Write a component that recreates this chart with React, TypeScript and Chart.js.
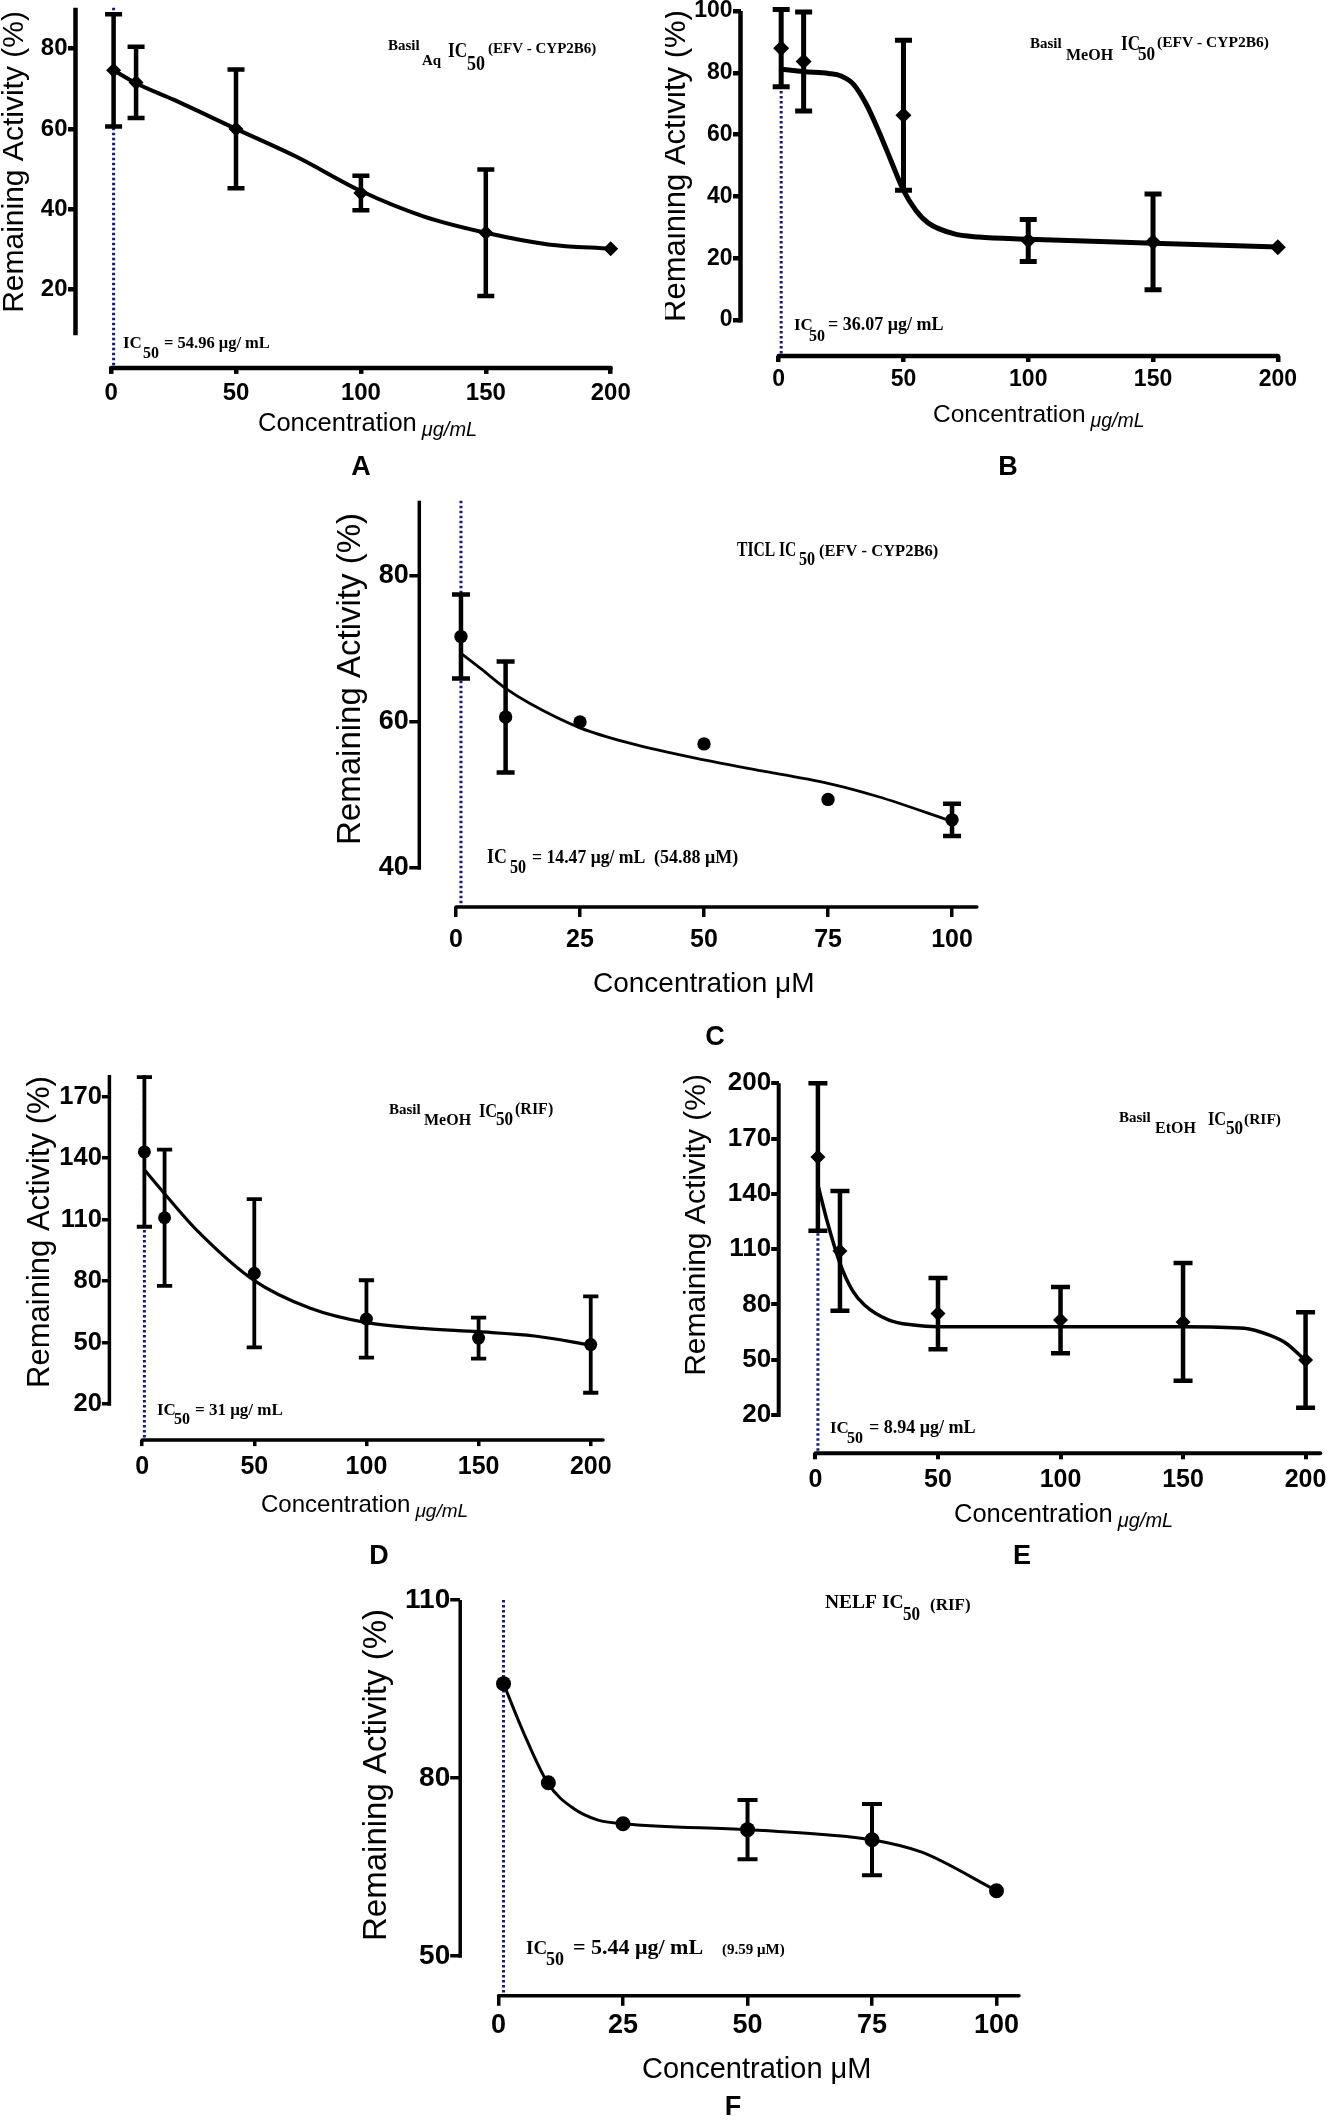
import React, { useEffect, useRef } from 'react';
import { Chart, registerables } from 'chart.js';

Chart.register(...registerables);

const SANS = "'Liberation Sans', Arial, Helvetica, sans-serif";
const SERIF = "'Liberation Serif', 'Times New Roman', Times, serif";

// ---------- Panel A : Basil Aq (EFV - CYP2B6) ----------
const A_CONC = [1, 10, 50, 100, 150, 200];
const A_MEAN = [74.6, 71.6, 60.0, 44.0, 34.1, 30.1];
const A_SEM = [14.0, 8.9, 14.8, 4.3, 15.8, 0];
const A_FIT_X = [1, 10, 25, 50, 75, 100, 125, 150, 175, 200];
const A_FIT_Y = [74.6, 71.4, 67.3, 60.0, 52.8, 44.5, 38.2, 34.1, 31.2, 30.1];
const A_X_TICKS = [0, 50, 100, 150, 200];
const A_Y_TICKS = [20, 40, 60, 80];

// ---------- Panel B : Basil MeOH (EFV - CYP2B6) ----------
const B_CONC = [1, 10, 50, 100, 150, 200];
const B_MEAN = [88.0, 83.7, 66.3, 25.8, 25.3, 23.6];
const B_SEM = [12.5, 16.0, 24.3, 6.8, 15.5, 0];
const B_FIT_X = [1, 10, 20, 25, 30, 35, 40, 45, 50, 55, 60, 70, 80, 100, 150, 200];
const B_FIT_Y = [81.2, 80.4, 79.8, 79.0, 76.3, 70.0, 61.3, 51.6, 42.0, 35.5, 31.4, 28.0, 26.9, 26.2, 24.9, 23.7];
const B_X_TICKS = [0, 50, 100, 150, 200];
const B_Y_TICKS = [0, 20, 40, 60, 80, 100];

// ---------- Panel C : TICL (EFV - CYP2B6) ----------
const C_CONC = [1, 10, 25, 50, 75, 100];
const C_MEAN = [71.7, 60.7, 60.0, 57.0, 49.4, 46.6];
const C_SEM = [5.75, 7.6, 0, 0, 0, 2.2];
const C_FIT_X = [1, 5, 10, 15, 25, 35, 50, 60, 75, 85, 100];
const C_FIT_Y = [69.4, 67.3, 64.6, 62.5, 59.2, 57.1, 54.8, 53.5, 51.6, 49.8, 46.4];
const C_X_TICKS = [0, 25, 50, 75, 100];
const C_Y_TICKS = [40, 60, 80];

// ---------- Panel D : Basil MeOH (RIF) ----------
const D_CONC = [1, 10, 50, 100, 150, 200];
const D_MEAN = [143.0, 110.9, 83.8, 61.5, 52.2, 49.0];
const D_SEM = [36.5, 33.2, 36.2, 18.9, 10.0, 23.5];
const D_FIT_X = [1, 10, 25, 50, 75, 100, 125, 150, 175, 200];
const D_FIT_Y = [134.3, 122.6, 104.1, 80.2, 66.7, 59.7, 56.9, 55.3, 53.2, 48.8];
const D_X_TICKS = [0, 50, 100, 150, 200];
const D_Y_TICKS = [20, 50, 80, 110, 140, 170];

// ---------- Panel E : Basil EtOH (RIF) ----------
const E_CONC = [1, 10, 50, 100, 150, 200];
const E_MEAN = [160.0, 109.0, 75.0, 71.5, 70.5, 49.8];
const E_SEM = [40.0, 32.5, 19.3, 18.0, 32.0, 25.9];
const E_FIT_X = [1, 5, 10, 15, 20, 30, 40, 50, 100, 150, 175, 185, 192, 200];
const E_FIT_Y = [144.8, 124.0, 102.3, 87.8, 79.7, 71.5, 68.8, 67.9, 67.9, 67.9, 67.0, 63.4, 58.9, 49.5];
const E_X_TICKS = [0, 50, 100, 150, 200];
const E_Y_TICKS = [20, 50, 80, 110, 140, 170, 200];

// ---------- Panel F : NELF (RIF) ----------
const F_CONC = [1, 10, 25, 50, 75, 100];
const F_MEAN = [95.9, 79.2, 72.3, 71.3, 69.6, 61.0];
const F_SEM = [0, 0, 0, 5.0, 6.0, 0];
const F_FIT_X = [1, 5, 10, 15, 20, 25, 50, 65, 75, 85, 100];
const F_FIT_Y = [95.9, 87.7, 79.0, 74.9, 72.9, 72.3, 71.3, 70.5, 69.6, 67.5, 61.0];
const F_X_TICKS = [0, 25, 50, 75, 100];
const F_Y_TICKS = [50, 80, 110];

const Y_TITLE = 'Remaining Activity (%)';

type Run = [string, number, number, number, number?];

interface PanelSpec {
  box: [number, number, number, number];
  area: [number, number, number, number];
  xRange: [number, number];
  yRange: [number, number];
  xTicks: number[];
  yTicks: number[];
  xAxisSpan: [number, number];
  yAxisSpan: [number, number];
  icX: number;
  icTop: number;
  conc: number[];
  mean: number[];
  err: number[];
  fitX: number[];
  fitY: number[];
  xTickFont: number;
  yTickFont: number;
  xTickLen: number;
  yTickLen: number;
  xTickPad: number;
  yTickPad: number;
  axisW: number;
  errW: number;
  capHalf: number;
  curveW: number;
  pointR: number;
  pointStyle: string;
  yTitle: [number, number, number];
  xTitle: { x: number; y: number; size: number; main: string; unit?: string; unitSize?: number; unitDy?: number };
  letter: [string, number, number];
  annot: Run[];
  ic50: Run[];
}

const PANELS: PanelSpec[] = [
  {
    box: [0, 0, 665, 490],
    area: [75.5, 7.8, 618.2, 367.9],
    xRange: [-14.25, 203],
    yRange: [0.4, 90.2],
    xTicks: A_X_TICKS,
    yTicks: A_Y_TICKS,
    xAxisSpan: [0, 200],
    yAxisSpan: [9.1, 90.2],
    icX: 1,
    icTop: 90.2,
    conc: A_CONC, mean: A_MEAN, err: A_SEM, fitX: A_FIT_X, fitY: A_FIT_Y,
    xTickFont: 24, yTickFont: 24, xTickLen: 6, yTickLen: 7.5, xTickPad: 7, yTickPad: 0.5,
    axisW: 4.5, errW: 4.5, capHalf: 8.5, curveW: 4, pointR: 7.5, pointStyle: 'rectRot',
    yTitle: [15, 162, 30],
    xTitle: { x: 258, y: 430.5, size: 25.5, main: 'Concentration', unit: 'μg/mL', unitSize: 20, unitDy: 5 },
    letter: ['A', 361, 468],
    annot: [
      ['Basil', 388, 50, 15],
      ['Aq', 422, 65, 15],
      ['IC', 448, 57, 20, 0.86],
      ['50', 467, 70, 20, 0.9],
      ['(EFV - CYP2B6)', 488, 53, 15],
    ],
    ic50: [
      ['IC', 123, 348, 17],
      ['50', 143, 358, 16],
      ['= 54.96 μg/ mL', 164, 348, 16.5],
    ],
  },
  {
    box: [665, 0, 664, 490],
    area: [740.5, 6.9, 1285.3, 356],
    xRange: [-15.3, 203],
    yRange: [-11.6, 101],
    xTicks: B_X_TICKS,
    yTicks: B_Y_TICKS,
    xAxisSpan: [0, 200],
    yAxisSpan: [0, 100],
    icX: 1,
    icTop: 100,
    conc: B_CONC, mean: B_MEAN, err: B_SEM, fitX: B_FIT_X, fitY: B_FIT_Y,
    xTickFont: 23, yTickFont: 23, xTickLen: 6, yTickLen: 7.5, xTickPad: 6.5, yTickPad: 0.5,
    axisW: 4.5, errW: 5, capHalf: 8.5, curveW: 5, pointR: 8, pointStyle: 'rectRot',
    yTitle: [676, 166, 31],
    xTitle: { x: 933, y: 421.5, size: 24.5, main: 'Concentration', unit: 'μg/mL', unitSize: 19.5, unitDy: 5 },
    letter: ['B', 1008, 468],
    annot: [
      ['Basil', 1030, 48, 15],
      ['MeOH', 1066, 59.5, 16],
      ['IC', 1121, 49.5, 20, 0.86],
      ['50', 1138, 59.5, 19, 0.9],
      ['(EFV - CYP2B6)', 1157, 47, 15.5],
    ],
    ic50: [
      ['IC', 794, 330, 17],
      ['50', 809, 340.5, 16],
      ['= 36.07 μg/ mL', 828, 330, 18],
    ],
  },
  {
    box: [250, 490, 800, 570],
    area: [419.3, 500.8, 981.8, 907],
    xRange: [-7.4, 106],
    yRange: [34.66, 90.3],
    xTicks: C_X_TICKS,
    yTicks: C_Y_TICKS,
    xAxisSpan: [0, 105],
    yAxisSpan: [40, 90.3],
    icX: 1,
    icTop: 90.3,
    conc: C_CONC, mean: C_MEAN, err: C_SEM, fitX: C_FIT_X, fitY: C_FIT_Y,
    xTickFont: 25, yTickFont: 27, xTickLen: 10, yTickLen: 10, xTickPad: 10.5, yTickPad: 0.5,
    axisW: 3.5, errW: 4.5, capHalf: 9, curveW: 2.8, pointR: 6.7, pointStyle: 'circle',
    yTitle: [351, 679, 33],
    xTitle: { x: 593, y: 992, size: 28, main: 'Concentration μM' },
    letter: ['C', 715, 1038],
    annot: [
      ['TICL IC', 737, 556, 20, 0.78],
      ['50', 799, 565, 19, 0.85],
      ['(EFV - CYP2B6)', 819, 556, 16.5],
    ],
    ic50: [
      ['IC', 487, 863, 21, 0.85],
      ['50', 510, 873, 19, 0.85],
      ['= 14.47 μg/ mL', 532, 863, 19, 0.93],
      ['(54.88 μM)', 654, 863, 18],
    ],
  },
  {
    box: [0, 1060, 665, 520],
    area: [109.4, 1074.9, 604.2, 1440.1],
    xRange: [-14.6, 206],
    yRange: [2.4, 180.6],
    xTicks: D_X_TICKS,
    yTicks: D_Y_TICKS,
    xAxisSpan: [0, 205.5],
    yAxisSpan: [20, 180.6],
    icX: 1,
    icTop: 180.6,
    conc: D_CONC, mean: D_MEAN, err: D_SEM, fitX: D_FIT_X, fitY: D_FIT_Y,
    xTickFont: 25, yTickFont: 25.5, xTickLen: 6, yTickLen: 7.5, xTickPad: 8.4, yTickPad: 0,
    axisW: 3.5, errW: 3.8, capHalf: 7.6, curveW: 3.2, pointR: 6.5, pointStyle: 'circle',
    yTitle: [40, 1232, 31],
    xTitle: { x: 261, y: 1511.5, size: 24, main: 'Concentration', unit: 'μg/mL', unitSize: 19, unitDy: 5 },
    letter: ['D', 379, 1557],
    annot: [
      ['Basil', 389, 1113.5, 15],
      ['MeOH', 424, 1124.5, 16],
      ['IC', 479, 1117, 19, 0.86],
      ['50', 496, 1125, 19, 0.9],
      ['(RIF)', 515, 1113.5, 16],
    ],
    ic50: [
      ['IC', 157, 1415, 17],
      ['50', 174, 1424, 16],
      ['= 31 μg/ mL', 195, 1415, 17],
    ],
  },
  {
    box: [665, 1060, 664, 520],
    area: [778.7, 1081.4, 1323.5, 1453.3],
    xRange: [-15, 206.5],
    yRange: [-0.8, 201],
    xTicks: E_X_TICKS,
    yTicks: E_Y_TICKS,
    xAxisSpan: [0, 206],
    yAxisSpan: [20, 200],
    icX: 1,
    icTop: 200,
    conc: E_CONC, mean: E_MEAN, err: E_SEM, fitX: E_FIT_X, fitY: E_FIT_Y,
    xTickFont: 25, yTickFont: 26, xTickLen: 6, yTickLen: 7.5, xTickPad: 8.2, yTickPad: 0,
    axisW: 4, errW: 4.5, capHalf: 9.5, curveW: 3.5, pointR: 7.5, pointStyle: 'rectRot',
    yTitle: [697, 1225, 30],
    xTitle: { x: 954, y: 1521.5, size: 25.5, main: 'Concentration', unit: 'μg/mL', unitSize: 20, unitDy: 5 },
    letter: ['E', 1022, 1557],
    annot: [
      ['Basil', 1119, 1121.5, 15],
      ['EtOH', 1155, 1133, 16],
      ['IC', 1208, 1125, 19, 0.86],
      ['50', 1226, 1133.5, 19, 0.9],
      ['(RIF)', 1244, 1123.5, 15.5],
    ],
    ic50: [
      ['IC', 830, 1433, 17],
      ['50', 847, 1443, 16],
      ['= 8.94 μg/ mL', 869, 1433, 18],
    ],
  },
  {
    box: [250, 1580, 850, 546],
    area: [460.2, 1598.2, 1023.9, 1995.8],
    xRange: [-7.7, 105.5],
    yRange: [43.3, 110.3],
    xTicks: F_X_TICKS,
    yTicks: F_Y_TICKS,
    xAxisSpan: [0, 104.5],
    yAxisSpan: [50, 110],
    icX: 1,
    icTop: 110,
    conc: F_CONC, mean: F_MEAN, err: F_SEM, fitX: F_FIT_X, fitY: F_FIT_Y,
    xTickFont: 27, yTickFont: 28, xTickLen: 10, yTickLen: 10, xTickPad: 6.7, yTickPad: 0,
    axisW: 3.5, errW: 4, capHalf: 10, curveW: 3, pointR: 7.5, pointStyle: 'circle',
    yTitle: [377, 1775, 33],
    xTitle: { x: 642, y: 2077.5, size: 29, main: 'Concentration μM' },
    letter: ['F', 733, 2108],
    annot: [
      ['NELF IC', 825, 1608, 19.5],
      ['50', 903, 1620, 19, 0.9],
      ['(RIF)', 930, 1610, 17],
    ],
    ic50: [
      ['IC', 526, 1954, 19],
      ['50', 546, 1965, 18],
      ['= 5.44 μg/ mL', 573, 1954, 22],
      ['(9.59 μM)', 722, 1954, 15],
    ],
  },
];

function drawRuns(ctx: CanvasRenderingContext2D, runs: Run[]) {
  for (const [text, x, y, size, sx] of runs) {
    ctx.save();
    ctx.font = `bold ${size}px ${SERIF}`;
    ctx.fillStyle = '#000';
    ctx.textAlign = 'left';
    ctx.textBaseline = 'alphabetic';
    ctx.translate(x, y);
    ctx.scale(sx ?? 1, 1);
    ctx.fillText(text, 0, 0);
    ctx.restore();
  }
}

function decorPlugin(s: PanelSpec) {
  return {
    id: 'decor',
    beforeDatasetsDraw(chart: any) {
      const { ctx, chartArea } = chart;
      const xs = chart.scales.x;
      const ys = chart.scales.y;
      ctx.save();
      // IC50 dotted marker line
      ctx.strokeStyle = '#1a1a70';
      ctx.lineWidth = 3;
      ctx.setLineDash([2.5, 2.5]);
      const px = xs.getPixelForValue(s.icX);
      ctx.beginPath();
      ctx.moveTo(px, ys.getPixelForValue(s.icTop));
      ctx.lineTo(px, chartArea.bottom);
      ctx.stroke();
      ctx.setLineDash([]);
      // axis lines (offset, Prism-like)
      ctx.strokeStyle = '#000';
      ctx.lineWidth = s.axisW;
      ctx.lineCap = 'butt';
      ctx.beginPath();
      ctx.moveTo(chartArea.left, ys.getPixelForValue(s.yAxisSpan[0]) + s.axisW / 2);
      ctx.lineTo(chartArea.left, ys.getPixelForValue(s.yAxisSpan[1]));
      ctx.stroke();
      ctx.lineCap = 'round';
      ctx.beginPath();
      ctx.moveTo(xs.getPixelForValue(s.xAxisSpan[0]), chartArea.bottom);
      ctx.lineTo(xs.getPixelForValue(s.xAxisSpan[1]), chartArea.bottom);
      ctx.stroke();
      ctx.restore();
    },
    afterDatasetsDraw(chart: any) {
      const { ctx } = chart;
      const xs = chart.scales.x;
      const ys = chart.scales.y;
      ctx.save();
      ctx.strokeStyle = '#000';
      ctx.lineWidth = s.errW;
      ctx.lineCap = 'butt';
      s.conc.forEach((c, i) => {
        const e = s.err[i];
        if (!e) return;
        const x = xs.getPixelForValue(c);
        const yt = ys.getPixelForValue(s.mean[i] + e);
        const yb = ys.getPixelForValue(s.mean[i] - e);
        ctx.beginPath();
        ctx.moveTo(x, yt - s.errW / 2);
        ctx.lineTo(x, yb + s.errW / 2);
        ctx.moveTo(x - s.capHalf, yt);
        ctx.lineTo(x + s.capHalf, yt);
        ctx.moveTo(x - s.capHalf, yb);
        ctx.lineTo(x + s.capHalf, yb);
        ctx.stroke();
      });
      ctx.restore();
    },
    afterDraw(chart: any) {
      const { ctx } = chart;
      ctx.save();
      ctx.translate(-s.box[0], -s.box[1]);
      ctx.fillStyle = '#000';
      // y title
      ctx.save();
      ctx.translate(s.yTitle[0], s.yTitle[1]);
      ctx.rotate(-Math.PI / 2);
      ctx.font = `${s.yTitle[2]}px ${SANS}`;
      ctx.textAlign = 'center';
      ctx.textBaseline = 'middle';
      ctx.fillText(Y_TITLE, 0, 0);
      ctx.restore();
      // x title
      const xt = s.xTitle;
      ctx.font = `${xt.size}px ${SANS}`;
      ctx.textAlign = 'left';
      ctx.textBaseline = 'alphabetic';
      ctx.fillText(xt.main, xt.x, xt.y);
      if (xt.unit) {
        const w = ctx.measureText(xt.main).width;
        ctx.font = `italic ${xt.unitSize}px ${SANS}`;
        ctx.fillText(xt.unit, xt.x + w + 5, xt.y + (xt.unitDy || 0));
      }
      // panel letter
      ctx.font = `bold 27px ${SANS}`;
      ctx.textAlign = 'center';
      ctx.textBaseline = 'middle';
      ctx.fillText(s.letter[0], s.letter[1], s.letter[2]);
      // annotations
      drawRuns(ctx, s.annot);
      drawRuns(ctx, s.ic50);
      ctx.restore();
    },
  };
}

function buildConfig(s: PanelSpec): any {
  const yScaleWidth = s.area[0] - s.box[0];
  const xScaleHeight = s.box[1] + s.box[3] - s.area[3];
  const padding = {
    left: 0,
    top: s.area[1] - s.box[1],
    right: s.box[0] + s.box[2] - s.area[2],
    bottom: 0,
  };
  const fixFit = (horizontal: boolean) => (sc: any) => {
    if (horizontal) sc.height = xScaleHeight;
    else sc.width = yScaleWidth;
    sc.paddingLeft = 0;
    sc.paddingRight = 0;
    sc.paddingTop = 0;
    sc.paddingBottom = 0;
  };
  return {
    type: 'line',
    data: {
      datasets: [
        {
          data: s.fitX.map((x, i) => ({ x, y: s.fitY[i] })),
          borderColor: '#000',
          borderWidth: s.curveW,
          pointRadius: 0,
          cubicInterpolationMode: 'monotone',
          fill: false,
          clip: false,
          order: 2,
        },
        {
          data: s.conc.map((x, i) => ({ x, y: s.mean[i] })),
          showLine: false,
          pointRadius: s.pointR,
          pointStyle: s.pointStyle,
          pointBackgroundColor: '#000',
          pointBorderColor: '#000',
          pointBorderWidth: 0,
          clip: false,
          order: 1,
        },
      ],
    },
    options: {
      responsive: false,
      animation: false,
      devicePixelRatio: 1,
      events: [],
      layout: { padding },
      plugins: {
        legend: { display: false },
        tooltip: { enabled: false },
        title: { display: false },
      },
      scales: {
        x: {
          type: 'linear',
          position: 'bottom',
          min: s.xRange[0],
          max: s.xRange[1],
          afterBuildTicks: (sc: any) => {
            sc.ticks = s.xTicks.map((v) => ({ value: v }));
          },
          afterFit: fixFit(true),
          border: { display: false },
          grid: {
            display: true,
            drawOnChartArea: false,
            drawTicks: true,
            tickLength: s.xTickLen,
            tickWidth: s.axisW,
            tickColor: '#000',
            color: '#000',
            lineWidth: s.axisW,
          },
          ticks: {
            autoSkip: false,
            maxRotation: 0,
            minRotation: 0,
            color: '#000',
            padding: s.xTickPad,
            font: { family: SANS, size: s.xTickFont, weight: 'bold', lineHeight: 1 },
            callback: (v: any) => String(v),
          },
        },
        y: {
          type: 'linear',
          position: 'left',
          min: s.yRange[0],
          max: s.yRange[1],
          afterBuildTicks: (sc: any) => {
            sc.ticks = s.yTicks.map((v) => ({ value: v }));
          },
          afterFit: fixFit(false),
          border: { display: false },
          grid: {
            display: true,
            drawOnChartArea: false,
            drawTicks: true,
            tickLength: s.yTickLen,
            tickWidth: s.axisW,
            tickColor: '#000',
            color: '#000',
            lineWidth: s.axisW,
          },
          ticks: {
            autoSkip: false,
            color: '#000',
            padding: s.yTickPad,
            font: { family: SANS, size: s.yTickFont, weight: 'bold', lineHeight: 1 },
            callback: (v: any) => String(v),
          },
        },
      },
    },
    plugins: [decorPlugin(s)],
  };
}

function Panel({ spec }: { spec: PanelSpec }) {
  const ref = useRef<HTMLCanvasElement>(null);
  useEffect(() => {
    if (!ref.current) return;
    const chart = new Chart(ref.current, buildConfig(spec));
    return () => chart.destroy();
  }, [spec]);
  return (
    <canvas
      ref={ref}
      width={spec.box[2]}
      height={spec.box[3]}
      style={{
        position: 'absolute',
        left: spec.box[0],
        top: spec.box[1],
        width: spec.box[2],
        height: spec.box[3],
      }}
    />
  );
}

export default function App() {
  return (
    <div
      style={{
        position: 'absolute',
        left: 0,
        top: 0,
        width: 1329,
        height: 2126,
        background: '#fff',
        overflow: 'hidden',
      }}
    >
      {PANELS.map((p, i) => (
        <Panel key={i} spec={p} />
      ))}
    </div>
  );
}
